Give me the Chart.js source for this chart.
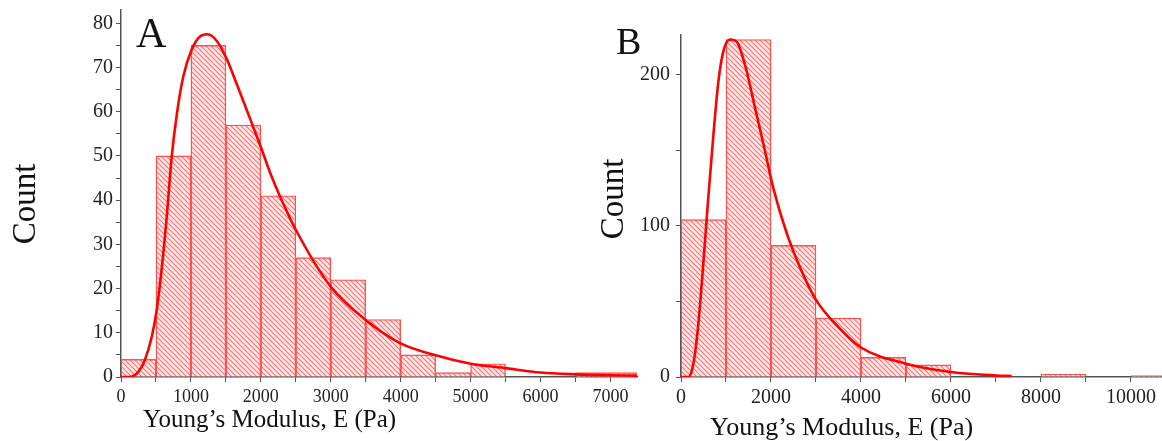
<!DOCTYPE html>
<html>
<head>
<meta charset="UTF-8">
<title>Young's Modulus histograms</title>
<script src="https://cdn.jsdelivr.net/npm/chart.js"></script>
<style>
  body { margin: 0; background: #fff; width: 1162px; height: 441px; position: relative; overflow: hidden; }
  .panel { position: absolute; top: 0; height: 441px; }
  #boxA { left: 0; width: 650px; }
  #boxB { left: 585px; width: 577px; }
</style>
</head>
<body>
<div class="panel" id="boxA"><canvas id="chartA"></canvas></div>
<div class="panel" id="boxB"><canvas id="chartB"></canvas></div>
<script>
// panel A : bins of 500 Pa (centres) and counts
const binsA = [250, 750, 1250, 1750, 2250, 2750, 3250, 3750, 4250, 4750, 5250, 5750, 6250, 6750, 7250];
const countsA = [4, 50, 75, 57, 41, 27, 22, 13, 5, 1, 3, 0, 0, 1, 1];
// fitted curve A
const fitA_E = [0, 130, 250, 340, 440, 510, 580, 650, 725, 800, 890, 1010, 1130, 1235, 1370, 1510, 1650, 1890, 2000, 2150, 2270, 2500, 3000, 3500, 4000, 4500, 5000, 5500, 6000, 6500, 7000, 7380];
const fitA_N = [0, 0, 1.2, 3.8, 9.1, 15.1, 24.2, 35.5, 49.8, 59.6, 67.9, 74, 77, 77.5, 76, 72, 66.5, 56.6, 52, 45.5, 41, 33.3, 20.4, 12.9, 7.6, 4.9, 3.0, 2.0, 1.0, 0.6, 0.4, 0.3];
// axis ticks A (labels on the round thousands / tens)
const xTicksA = [0, 500, 1000, 1500, 2000, 2500, 3000, 3500, 4000, 4500, 5000, 5500, 6000, 6500, 7000];
const yTicksA = [0, 5, 10, 15, 20, 25, 30, 35, 40, 45, 50, 55, 60, 65, 70, 75, 80];

// panel B : bins of 1000 Pa
const binsB = [500, 1500, 2500, 3500, 4500, 5500, 6500, 7500, 8500, 9500, 10500];
const countsB = [104, 223, 87, 39, 13, 8, 0, 0, 2, 0, 1];
const fitB_E = [0, 165, 275, 385, 495, 605, 720, 830, 940, 1090, 1240, 1420, 1645, 1865, 2050, 2350, 2650, 3000, 3500, 4000, 5000, 6000, 7000, 7350];
const fitB_N = [0, 0, 8.8, 35, 74.6, 118, 160, 195, 215, 223, 221.5, 206.5, 178, 149.5, 125, 95, 72, 51, 33, 19.5, 8.8, 3.3, 1.0, 0.7];
const xTicksB = [0, 1000, 2000, 3000, 4000, 5000, 6000, 7000, 8000, 9000, 10000];
const yTicksB = [0, 50, 100, 150, 200];

const serif = "'Liberation Serif', 'Times New Roman', serif";

function hatch() {
  const c = document.createElement('canvas');
  c.width = 5; c.height = 5;
  const g = c.getContext('2d');
  g.fillStyle = '#ffeaea';
  g.fillRect(0, 0, 5, 5);
  g.strokeStyle = 'rgba(255,70,70,0.75)';
  g.lineWidth = 1.1;
  g.beginPath();
  g.moveTo(-1, -1); g.lineTo(6, 6);
  g.moveTo(-1, 4); g.lineTo(1, 6);
  g.moveTo(4, -1); g.lineTo(6, 1);
  g.stroke();
  return g.createPattern(c, 'repeat');
}

// label only every n-th unit
function every(n) {
  return function (v, i, ticks) {
    const val = Math.round(ticks[i].value);
    return val % n === 0 ? String(val) : '';
  };
}

// free text (panel letter, axis titles) drawn at fixed spots on the canvas
const textPlugin = {
  id: 'panelText',
  afterDraw(chart, args, opts) {
    const ctx = chart.ctx;
    (opts.items || []).forEach(t => {
      ctx.save();
      ctx.font = t.size + 'px ' + serif;
      ctx.fillStyle = '#111';
      ctx.textBaseline = 'alphabetic';
      ctx.translate(t.x, t.y);
      if (t.rotate) { ctx.rotate(-Math.PI / 2); ctx.textAlign = 'center'; }
      else ctx.textAlign = 'left';
      ctx.fillText(t.text, 0, 0);
      ctx.restore();
    });
  }
};

function makeChart(id, o) {
  const axisColor = '#555';
  return new Chart(document.getElementById(id), {
    type: 'bar',
    data: {
      datasets: [{
        type: 'line',
        data: o.fitE.map((e, i) => ({ x: e, y: o.fitN[i] })),
        borderColor: '#ff0000',
        borderWidth: 2.6,
        pointRadius: 0,
        cubicInterpolationMode: 'monotone',
        fill: false
      }, {
        type: 'bar',
        data: o.bins.map((b, i) => ({ x: b, y: o.counts[i] })),
        backgroundColor: hatch(),
        borderColor: '#ff5050',
        borderWidth: 1.4,
        barPercentage: 1,
        categoryPercentage: 1
      }]
    },
    options: {
      responsive: true,
      maintainAspectRatio: false,
      animation: false,
      events: [],
      layout: { padding: o.pad },
      plugins: { legend: { display: false }, tooltip: { enabled: false }, panelText: { items: o.texts } },
      scales: {
        x: {
          type: 'linear', min: 0, max: o.xMax, offset: false,
          grid: { drawOnChartArea: false, tickLength: 5, color: axisColor, offset: false },
          border: { color: axisColor, width: 1.5 },
          afterBuildTicks: s => { s.ticks = o.xTicks.map(v => ({ value: v })); },
          ticks: {
            autoSkip: false, maxRotation: 0, minRotation: 0, padding: 4,
            color: '#222', font: { family: serif, size: o.xFont },
            callback: every(o.xLab)
          },
          afterFit: s => { s.height = 64; }
        },
        y: {
          min: 0, max: o.yMax,
          grid: { drawOnChartArea: false, tickLength: 5, color: axisColor },
          border: { color: axisColor, width: 1.5 },
          afterBuildTicks: s => { s.ticks = o.yTicks.map(v => ({ value: v })); },
          ticks: {
            autoSkip: false, padding: o.yPad,
            color: '#222', font: { family: serif, size: o.yFont },
            callback: every(o.yLab)
          },
          afterFit: s => { s.width = o.yWidth; s.paddingTop = 0; s.paddingBottom = 0; }
        }
      }
    },
    plugins: [textPlugin]
  });
}

makeChart('chartA', {
  bins: binsA, counts: countsA, fitE: fitA_E, fitN: fitA_N,
  xTicks: xTicksA, yTicks: yTicksA,
  xMax: 7380, xLab: 1000, xFont: 18,
  yMax: 83, yLab: 10, yFont: 20, yPad: 3, yWidth: 121,
  pad: { left: 0, right: 13, top: 10, bottom: 0 },
  texts: [
    { text: 'A', x: 136, y: 47, size: 42 },
    { text: 'Count', x: 35, y: 204, size: 33, rotate: true },
    { text: 'Young\u2019s Modulus, E (Pa)', x: 143, y: 427, size: 25 }
  ]
});

makeChart('chartB', {
  bins: binsB, counts: countsB, fitE: fitB_E, fitN: fitB_N,
  xTicks: xTicksB, yTicks: yTicksB,
  xMax: 10690, xLab: 2000, xFont: 20,
  yMax: 226, yLab: 100, yFont: 20, yPad: 6, yWidth: 96,
  pad: { left: 0, right: 0, top: 35, bottom: 0 },
  texts: [
    { text: 'B', x: 31, y: 54, size: 38 },
    { text: 'Count', x: 38, y: 199, size: 33, rotate: true },
    { text: 'Young\u2019s Modulus, E (Pa)', x: 125, y: 435, size: 26 }
  ]
});
</script>
</body>
</html>
